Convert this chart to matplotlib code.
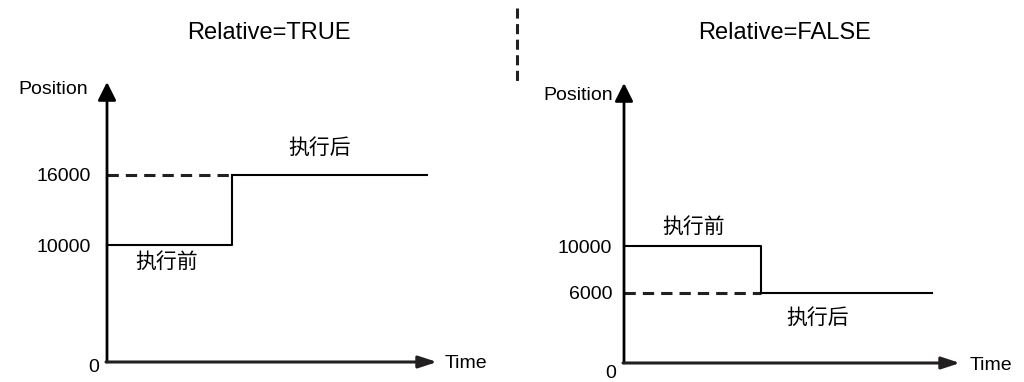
import numpy as np
import matplotlib.pyplot as plt
from matplotlib.lines import Line2D

plt.rcParams['font.family'] = ['Liberation Sans', 'Noto Sans CJK SC', 'DejaVu Sans']

# data (time in arbitrary units, position in pulses)
titles = ['Relative=TRUE', 'Relative=FALSE']
before_pos = [10000, 10000]
after_pos = [16000, 6000]
t_step = [5.0, 5.48]
t_end = [12.8, 12.32]
t_axis_end = [13.2, 13.44]
pos_axis_end = [23930, 23930]
ytick_vals = [[10000, 16000], [6000, 10000]]
label_before = '执行前'
label_after = '执行后'

W, H = 1024, 382
fig = plt.figure(figsize=(W / 100, H / 100), dpi=100)

px_per_t = 25.0
px_per_pos = 0.0117
origins = [(107, 362), (624, 363)]

CJK = ['Noto Sans CJK SC', 'DejaVu Sans']
ink = '#231f20'

# per-panel text offsets (pixels)
tick_pad = [16, 12]
zero_off = [(-13, -6), (-13, -11)]
posn_off = [(-19, -7), (-11, -12)]
time_off = [8, 10]
before_off = [(-3, -17), (1, 19)]
after_off = [(-10, 27), (-29, -25)]
title_x = [269, 785]

for i in range(2):
    x0, y0 = origins[i]
    ax = fig.add_axes([0, 0, 1, 1])
    ax.set_xlim(-x0 / px_per_t, (W - x0) / px_per_t)
    ax.set_ylim((y0 - H) / px_per_pos, y0 / px_per_pos)
    ax.axis('off')

    # axes arrows
    ax.annotate('', xy=(0, pos_axis_end[i]), xytext=(0, 0),
                arrowprops=dict(arrowstyle='-|>,head_length=1.1,head_width=0.55',
                                lw=2.0, color='black', shrinkA=0, shrinkB=0))
    ax.annotate('', xy=(t_axis_end[i], 0), xytext=(-0.04, 0),
                arrowprops=dict(arrowstyle='-|>,head_length=1.1,head_width=0.36',
                                lw=2.2, color=ink, shrinkA=0, shrinkB=0))

    b, a, ts, te = before_pos[i], after_pos[i], t_step[i], t_end[i]
    ax.plot([0, ts, ts], [b, b, a], color='black', lw=1.5)
    ax.plot([0, ts], [a, a], color=ink, lw=2.2, ls=(0, (3.7, 2.3)))
    ax.plot([ts, te], [a, a], color='black', lw=1.5)

    for v in ytick_vals[i]:
        ax.annotate(f'{v}', xy=(0, v), xytext=(-tick_pad[i], -2), textcoords='offset pixels',
                    ha='right', va='center', fontsize=14)
    ax.annotate('0', xy=(0, 0), xytext=zero_off[i], textcoords='offset pixels',
                ha='center', va='center', fontsize=14)
    ax.annotate('Position', xy=(0, pos_axis_end[i]), xytext=posn_off[i],
                textcoords='offset pixels', ha='right', va='center', fontsize=14)
    ax.annotate('Time', xy=(t_axis_end[i], 0), xytext=(time_off[i], -2),
                textcoords='offset pixels', ha='left', va='center', fontsize=14)

    ax.annotate(label_before, xy=(ts / 2, b), xytext=before_off[i], textcoords='offset pixels',
                ha='center', va='center', fontsize=15, family=CJK)
    ax.annotate(label_after, xy=((ts + te) / 2, a), xytext=after_off[i], textcoords='offset pixels',
                ha='center', va='center', fontsize=15, family=CJK)

    fig.text(title_x[i] / W, 1 - 33 / H, titles[i], ha='center', va='center', fontsize=17)

fig.add_artist(Line2D([517 / W, 517 / W], [1 - 8 / H, 1 - 83 / H], color=ink,
                      lw=2.2, ls=(0, (3.3, 1.8)), transform=fig.transFigure))

fig.savefig('out.png', dpi=100)
